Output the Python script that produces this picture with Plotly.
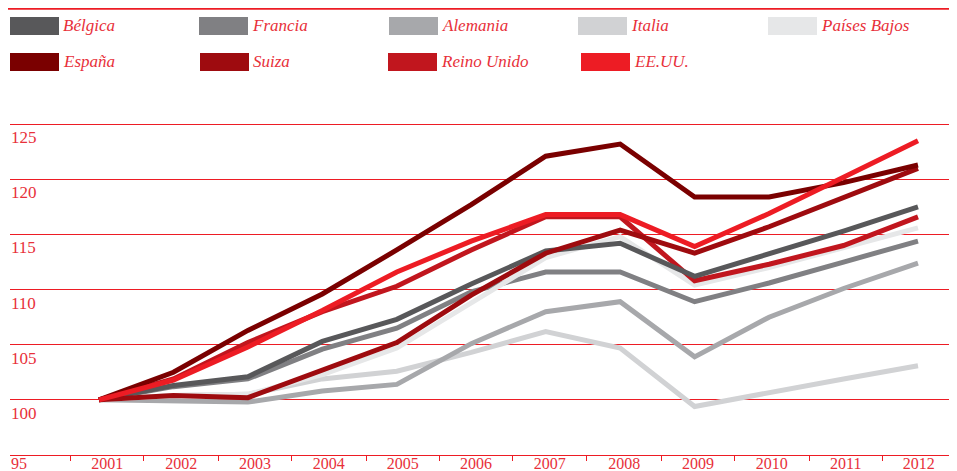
import plotly.graph_objects as go

years = [2001, 2002, 2003, 2004, 2005, 2006, 2007, 2008, 2009, 2010, 2011, 2012]

belgica = [100, 101.3, 102.1, 105.3, 107.3, 110.5, 113.5, 114.2, 111.2, 113.2, 115.3, 117.5]
francia = [100, 101.2, 101.9, 104.6, 106.5, 109.8, 111.6, 111.6, 108.9, 110.6, 112.5, 114.4]
alemania = [100, 99.9, 99.8, 100.8, 101.4, 105.1, 108.0, 108.9, 103.9, 107.5, 110.1, 112.4]
italia = [100, 100.4, 100.5, 101.9, 102.6, 104.3, 106.2, 104.7, 99.4, 100.7, 101.9, 103.1]
paises_bajos = [100, 100.4, 100.5, 102.3, 104.7, 108.8, 112.9, 114.8, 110.4, 112.0, 113.8, 115.6]
espana = [100, 102.5, 106.3, 109.6, 113.6, 117.7, 122.1, 123.2, 118.4, 118.4, 119.7, 121.3]
suiza = [100, 100.4, 100.2, 102.7, 105.2, 109.5, 113.3, 115.4, 113.3, 115.7, 118.3, 121.0]
reino_unido = [100, 101.9, 105.2, 108.0, 110.3, 113.6, 116.6, 116.6, 110.8, 112.3, 114.0, 116.6]
eeuu = [100, 101.8, 104.8, 108.1, 111.6, 114.4, 116.8, 116.8, 113.9, 116.9, 120.2, 123.5]

y_ticks = [100, 105, 110, 115, 120, 125]
y_min = 95
# separator tick marks between the year labels (axis units)
x_separators = [2000.62, 2001.60, 2002.61, 2003.58, 2004.59, 2005.57, 2006.56,
                2007.55, 2008.56, 2009.53, 2010.54, 2011.52, 2012.50]

series = {
    "Bélgica": (belgica, "#58585A"),
    "Francia": (francia, "#808083"),
    "Alemania": (alemania, "#A7A8AB"),
    "Italia": (italia, "#D1D2D4"),
    "Países Bajos": (paises_bajos, "#E6E7E8"),
    "España": (espana, "#7A0000"),
    "Suiza": (suiza, "#9E0B0F"),
    "Reino Unido": (reino_unido, "#C1161E"),
    "EE.UU.": (eeuu, "#ED1C24"),
}
draw_order = ["Italia", "Alemania", "Francia", "Países Bajos", "Reino Unido",
              "Bélgica", "Suiza", "España", "EE.UU."]
legend_rows = [["Bélgica", "Francia", "Alemania", "Italia", "Países Bajos"],
               ["España", "Suiza", "Reino Unido", "EE.UU."]]

RED = "#ED1C24"
TXT = "#E8303A"
W, H = 949, 463
L, R, T, B = 2, 0, 113.8, 16
PW, PH = W - L - R, H - T - B

def px2x(px):
    return (px - L) / PW

def py2y(py):
    return (H - B - py) / PH

fig = go.Figure()
for name in draw_order:
    vals, col = series[name]
    fig.add_trace(go.Scatter(x=years, y=vals, mode="lines", name=name,
                             line=dict(color=col, width=5), showlegend=False))

# manual legend
shapes = []
annotations = []
col_x = [[2, 191, 381, 570, 760], [2, 192, 380, 573]]
row_y = [17.7, 53.7]
for r, row in enumerate(legend_rows):
    for c, name in enumerate(row):
        x0 = col_x[r][c]
        shapes.append(dict(type="rect", xref="paper", yref="paper",
                           x0=px2x(x0), x1=px2x(x0 + 49),
                           y0=py2y(row_y[r] + 9), y1=py2y(row_y[r] - 9),
                           fillcolor=series[name][1], line=dict(width=0), layer="above"))
        annotations.append(dict(text="<i>" + name + "</i>", xref="paper", yref="paper",
                                x=px2x(x0 + 51), y=py2y(row_y[r]),
                                xanchor="left", yanchor="middle", showarrow=False,
                                font=dict(family="Liberation Serif", size=17, color=TXT)))
# bottom y label (sits in the year-label row)
annotations.append(dict(text=str(y_min), xref="paper", yref="y", x=0, y=y_min,
                        xanchor="left", yanchor="middle", yshift=-8, xshift=0,
                        borderpad=0, showarrow=False,
                        font=dict(family="Liberation Serif", size=16, color=TXT)))
# top rule
shapes.append(dict(type="line", xref="paper", yref="paper",
                   x0=px2x(0), x1=px2x(W), y0=py2y(0.6), y1=py2y(0.6),
                   line=dict(color=RED, width=2)))

label_pos = [(a + b) / 2 for a, b in zip(x_separators[:-1], x_separators[1:])]

fig.update_layout(
    width=W, height=H,
    margin=dict(l=L, r=R, t=T, b=B, autoexpand=False),
    template="none",
    paper_bgcolor="white", plot_bgcolor="white",
    shapes=shapes, annotations=annotations,
    showlegend=False,
)
fig.update_xaxes(
    range=[1999.805, 2012.524], showgrid=False, zeroline=False,
    showline=True, linecolor=RED, linewidth=1,
    tickmode="array", tickvals=label_pos, ticktext=[str(y) for y in years],
    ticks="", ticklabelstandoff=-6, ticklabeloverflow="allow",
    tickfont=dict(family="Liberation Serif", size=16, color=TXT),
    minor=dict(tickmode="array", tickvals=x_separators,
               ticks="outside", ticklen=5, tickcolor=RED, tickwidth=1),
    automargin=False,
)
fig.update_yaxes(
    range=[y_min, 125.2], showgrid=True, gridcolor=RED, gridwidth=1, zeroline=False,
    showline=False, tickmode="array", tickvals=y_ticks, ticktext=[str(v) for v in y_ticks],
    ticks="", ticklabelposition="inside", ticklabelshift=13, ticklabelstandoff=-2,
    ticklabeloverflow="allow",
    tickfont=dict(family="Liberation Serif", size=17, color=TXT),
    automargin=False,
)
fig.write_html("out.html")
